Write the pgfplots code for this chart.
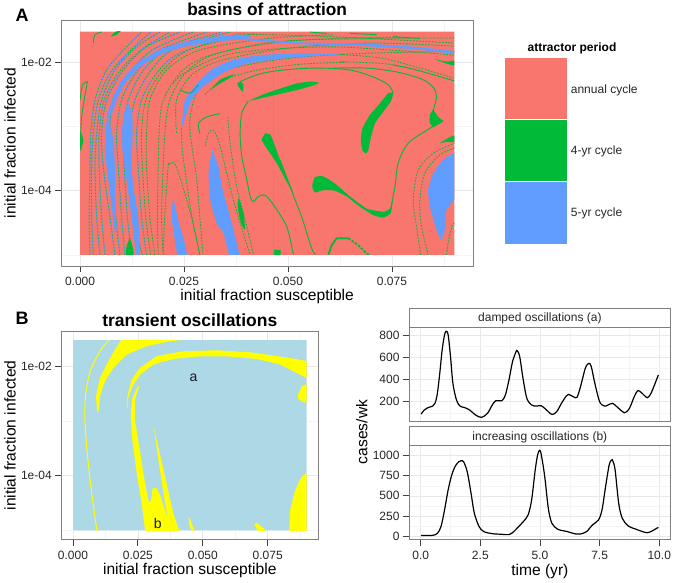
\documentclass[border=0pt]{standalone}
\usepackage{fontspec}
\setmainfont{Liberation Sans}
\usepackage{pgfplots}
\usepackage{pgfplotstable}
\pgfplotsset{compat=1.18}
\definecolor{pk}{HTML}{F8766D}
\definecolor{gr}{HTML}{00BA38}
\definecolor{bl}{HTML}{619CFF}
\definecolor{lb}{HTML}{ADD8E6}
\definecolor{ye}{HTML}{FFFF00}
\newcommand\fs[1]{\fontsize{#1}{#1}\selectfont}
\pgfplotsset{
 box/.style={scale only axis,anchor=south west,
  axis line style={black!50,line width=1pt},
  tick style={black!75,line width=.8pt},
  tick align=outside,major tick length=6pt,minor tick length=0pt,
  xtick pos=bottom,ytick pos=left,scaled ticks=false,
  grid=both,major grid style={black!9,line width=.6pt},minor grid style={black!4,line width=.4pt},
  tick label style={font=\fs{12},text=black!85},
  xticklabel style={yshift=-1.5pt},
  label style={font=\fs{15.6}},
  title style={font=\fs{17.5}\bfseries},
  no marks},
 fr/.style={xmin=-0.0045,xmax=0.0945,ymin=-5.174,ymax=-1.348,
  xtick={0,0.025,0.05,0.075},xticklabels={0.000,0.025,0.050,0.075},
  minor xtick={0.0125,0.0375,0.0625,0.0875},
  ytick={-4,-2},yticklabels={1e-04,1e-02},minor ytick={-5,-3},
  xlabel={initial fraction susceptible},ylabel={initial fraction infected}},
 map/.style={hide axis,scale only axis,anchor=south west,no marks,
  xmin=0,xmax=0.09,ymin=-5,ymax=-1.522},
 G/.style={draw=none,fill=gr,smooth cycle,tension=.25},
 B/.style={draw=none,fill=bl,smooth cycle,tension=.25},
 Y/.style={draw=none,fill=ye,smooth cycle,tension=.12},
 gl/.style={gr,line width=.9pt,smooth},
 gd/.style={gr,line width=.8pt,smooth,dash pattern=on 1.8pt off 1.4pt},
 bd/.style={bl,line width=.9pt,smooth,dash pattern=on 1.6pt off 1.6pt,dash phase=1.6pt},
}
\pgfplotstableread{
x y
0.0024 -5
0.0022 -4.41
0.0024 -3.63
0.0026 -3.11
0.0036 -2.59
0.0064 -2.12
0.0112 -1.76
0.0148 -1.53
}\Fa
\pgfplotstableread{
x y
0.0048 -5
0.0040 -4.41
0.0036 -3.63
0.0040 -3.11
0.0052 -2.59
0.0084 -2.12
0.0136 -1.76
0.0192 -1.53
}\Fb
\pgfplotstableread{
x y
0.0084 -5
0.0072 -4.41
0.0056 -3.63
0.0052 -3.11
0.0064 -2.59
0.0104 -2.12
0.0160 -1.76
0.0240 -1.53
}\Fc
\pgfplotstableread{
x y
0.0108 -5
0.0100 -4.41
0.0092 -3.63
0.0088 -3.11
0.0100 -2.59
0.0136 -2.15
0.0192 -1.81
0.0304 -1.53
}\Fd
\pgfplotstableread{
x y
0.0160 -5
0.0148 -4.41
0.0140 -3.63
0.0136 -3.11
0.0148 -2.59
0.0184 -2.17
0.0240 -1.86
0.0385 -1.55
}\Fe
\pgfplotstableread{
x y
0.0180 -5
0.0168 -4.41
0.0160 -3.63
0.0160 -3.11
0.0168 -2.59
0.0208 -2.12
0.0288 -1.81
0.0449 -1.63
0.0609 -1.57
}\Ff
\pgfplotstableread{
x y
0.0188 -5
0.0186 -4.41
0.0188 -3.63
0.0191 -3.0
0.0200 -2.59
0.0240 -2.17
0.0304 -1.91
0.0449 -1.70
0.0609 -1.63
0.0769 -1.61
}\Fg
\pgfplotstableread{
x y
0.0296 -5
0.0288 -4.41
0.0280 -3.79
0.0268 -3.26
0.0264 -2.90
0.0280 -2.48
0.0321 -2.19
0.0417 -2.02
0.0529 -1.92
0.0689 -1.86
0.0900 -1.83
}\Fh
\pgfplotstableread{
x y
0.0224 -2.33
0.0256 -2.15
0.0369 -1.86
0.0609 -1.76
0.0900 -1.89
}\Fi
\pgfplotstableread{
x y
0.0032 -5
0.0028 -4.41
0.0028 -3.63
0.0032 -3.11
0.0044 -2.59
0.0074 -2.15
0.0124 -1.80
0.0170 -1.53
}\Fj
\pgfplotstableread{
x y
0.0060 -5
0.0052 -4.41
0.0046 -3.63
0.0046 -3.11
0.0058 -2.59
0.0094 -2.15
0.0148 -1.80
0.0216 -1.53
}\Fk
\pgfplotstableread{
x y
0.0096 -5
0.0086 -4.41
0.0074 -3.63
0.0070 -3.11
0.0082 -2.59
0.0120 -2.15
0.0176 -1.80
0.0272 -1.53
}\Fl
\pgfplotstableread{
x y
0.0124 -5
0.0114 -4.41
0.0106 -3.63
0.0104 -3.11
0.0116 -2.59
0.0150 -2.15
0.0208 -1.80
0.0340 -1.53
}\Fm
\pgfplotstableread{
x y
0.0150 -5
0.0128 -4.41
0.0120 -3.63
0.0118 -3.11
0.0132 -2.59
0.0168 -2.15
0.0224 -1.80
0.0360 -1.53
}\Fn
\pgfplotstableread{
x y
0.0170 -5
0.0158 -4.41
0.0150 -3.63
0.0148 -3.11
0.0158 -2.59
0.0196 -2.15
0.0264 -1.80
0.0420 -1.55
}\Fo
\pgfplotstableread{
x y
0.0200 -5
0.0196 -4.41
0.0200 -3.63
0.0204 -3.11
0.0216 -2.59
0.0256 -2.15
0.0330 -1.86
0.0500 -1.67
0.0700 -1.63
0.0900 -1.62
}\Fp
\pgfplotstableread{
x y
0.0232 -3.10
0.0232 -2.59
0.0268 -2.20
0.0340 -1.97
0.0500 -1.78
0.0700 -1.70
0.0900 -1.75
}\Fq
\newcommand\fil[1]{\addplot[gd] table {#1};\addplot[bd] table {#1};}
\newcommand\gil[1]{\addplot[gd] table {#1};}
\begin{document}
\begin{tikzpicture}
\useasboundingbox (0pt,0pt) rectangle (675pt,583pt);
% ---------- panel A
\begin{axis}[box,fr,at={(61.3pt,316.9pt)},width=411.8pt,height=245.7pt,
 title={basins of attraction},title style={font=\fs{17.3}\bfseries,at={(axis description cs:.5,1.022)},anchor=center},
 xlabel style={at={(axis description cs:.5,-0.122)},anchor=center},
 ylabel style={at={(axis description cs:-0.1246,.5)},anchor=center}]
\end{axis}
\begin{axis}[map,at={(80pt,328.1pt)},width=374.4pt,height=223.3pt]
\addplot[draw=none,fill=pk] coordinates {(0,-5)(0.09,-5)(0.09,-1.522)(0,-1.522)} \closedcycle;
% filigree
\fil{\Fa}\fil{\Fb}\fil{\Fc}\fil{\Fd}\fil{\Fe}\gil{\Ff}\gil{\Fg}\gil{\Fh}\gil{\Fi}
\fil{\Fj}\fil{\Fk}\fil{\Fl}\fil{\Fm}\fil{\Fn}\gil{\Fo}\gil{\Fp}\gil{\Fq}
% blue bands
\addplot[B] coordinates {(0.0625,-1.88)(0.0529,-1.86)(0.0433,-1.89)(0.0369,-1.96)(0.0321,-2.09)(0.0281,-2.33)(0.0252,-2.59)(0.0247,-2.82)(0.0244,-3.03)(0.0268,-2.59)(0.0296,-2.38)(0.0345,-2.16)(0.0401,-2.02)(0.0489,-1.94)(0.0569,-1.90)};
\addplot[B] coordinates {(0.0318,-3.37)(0.0333,-3.63)(0.0341,-3.94)(0.0361,-4.41)(0.0385,-5.05)(0.0361,-5.05)(0.0345,-4.66)(0.0329,-4.51)(0.0313,-4.15)(0.0309,-3.73)};
\addplot[B] coordinates {(0.0116,-2.64)(0.0126,-2.85)(0.0126,-3.26)(0.0123,-3.52)(0.0128,-3.94)(0.0140,-4.41)(0.0144,-5.05)(0.0136,-5.05)(0.0124,-4.41)(0.0112,-3.83)(0.0103,-3.42)(0.0100,-3.11)(0.0106,-2.79)};
\addplot[B] coordinates {(0.0068,-2.85)(0.0080,-3.21)(0.0084,-3.63)(0.0084,-4.15)(0.0088,-4.61)(0.0084,-4.66)(0.0076,-4.25)(0.0068,-3.83)(0.0060,-3.37)(0.0062,-3.0)};
\addplot[B] coordinates {(0.0064,-2.85)(0.0080,-2.53)(0.0100,-2.28)(0.0136,-2.02)(0.0192,-1.80)(0.0256,-1.68)(0.0329,-1.60)(0.0401,-1.57)(0.0409,-1.62)(0.0329,-1.68)(0.0256,-1.75)(0.0200,-1.86)(0.0144,-2.07)(0.0108,-2.33)(0.0088,-2.59)(0.0076,-2.82)};
\addplot[B] coordinates {(0.0385,-1.62)(0.0529,-1.69)(0.0689,-1.71)(0.0809,-1.76)(0.0905,-1.83)(0.0905,-1.87)(0.0809,-1.80)(0.0689,-1.75)(0.0529,-1.72)(0.0385,-1.65)};
\addplot[B] coordinates {(0.0224,-4.12)(0.0236,-4.46)(0.0252,-4.82)(0.0258,-5.05)(0.0236,-5.05)(0.0228,-4.77)(0.0220,-4.41)};
\addplot[B] coordinates {(0.0905,-3.42)(0.0873,-3.52)(0.0849,-3.73)(0.0837,-3.99)(0.0841,-4.25)(0.0857,-4.61)(0.0869,-4.77)(0.0877,-4.61)(0.0881,-4.30)(0.0905,-4.07)};
% green blobs
\addplot[G] coordinates {(0.0753,-2.48)(0.0747,-2.61)(0.0729,-2.77)(0.0709,-2.95)(0.0699,-3.18)(0.0693,-3.37)(0.0687,-3.42)(0.0679,-3.37)(0.0675,-3.21)(0.0679,-3.03)(0.0697,-2.82)(0.0721,-2.64)(0.0741,-2.48)};
\addplot[G] coordinates {(0.0575,-2.32)(0.0553,-2.30)(0.0521,-2.33)(0.0481,-2.41)(0.0441,-2.50)(0.0407,-2.60)(0.0441,-2.55)(0.0489,-2.48)(0.0529,-2.42)(0.0561,-2.36)};
\addplot[G] coordinates {(0.0378,-2.33)(0.0386,-2.30)(0.0393,-2.35)(0.0391,-2.46)(0.0383,-2.40)};
\addplot[G] coordinates {(0.0437,-3.21)(0.0445,-3.11)(0.0458,-3.13)(0.0469,-3.31)(0.0481,-3.52)(0.0497,-3.78)(0.0513,-4.04)(0.0497,-3.86)(0.0473,-3.57)(0.0449,-3.34)};
\addplot[G] coordinates {(0.0559,-3.89)(0.0565,-3.79)(0.0581,-3.77)(0.0597,-3.82)(0.0617,-3.91)(0.0649,-4.09)(0.0689,-4.28)(0.0729,-4.33)(0.0745,-4.28)(0.0751,-4.15)(0.0751,-4.20)(0.0747,-4.35)(0.0729,-4.42)(0.0705,-4.38)(0.0673,-4.25)(0.0641,-4.09)(0.0613,-4.00)(0.0585,-3.99)(0.0565,-4.03)(0.0559,-3.96)};
\addplot[G] coordinates {(0.0873,-2.92)(0.0861,-2.85)(0.0849,-2.74)(0.0841,-2.82)(0.0841,-2.94)(0.0849,-3.01)};
\addplot[G] coordinates {(0.0865,-3.26)(0.0885,-3.18)(0.0905,-3.13)(0.0905,-3.24)(0.0881,-3.24)};
\addplot[G] coordinates {(0.0853,-1.95)(0.0881,-1.99)(0.0905,-1.97)(0.0905,-2.06)(0.0881,-2.02)};
\addplot[G] coordinates {(0.0120,-4.74)(0.0128,-4.92)(0.0129,-5.05)(0.0110,-5.05)(0.0112,-4.87)};
\addplot[G] coordinates {(0.0381,-4.12)(0.0393,-4.35)(0.0397,-4.61)(0.0387,-4.51)(0.0379,-4.25)};
\addplot[G] coordinates {(0.0313,-2.43)(0.0337,-2.27)(0.0373,-2.18)(0.0353,-2.27)(0.0329,-2.36)};
\addplot[G] coordinates {(0.0074,-1.60)(0.0084,-1.53)(0.0100,-1.50)(0.0088,-1.57)};
\addplot[G] coordinates {(-0.0003,-3.0)(0.0008,-3.21)(0.0002,-3.37)(-0.0003,-3.37)};
\addplot[draw=none,fill=gr] coordinates {(0.0466,-4.92)(0.0482,-4.92)(0.0482,-5.05)(0.0466,-5.05)} \closedcycle;
% green thin curves
\addplot[gl] coordinates {(0.0385,-2.30)(0.0433,-2.18)(0.0489,-2.12)(0.0569,-2.09)(0.0649,-2.12)(0.0705,-2.23)(0.0741,-2.35)(0.0753,-2.48)};
\addplot[gl] coordinates {(0.0405,-2.60)(0.0389,-2.79)(0.0385,-3.11)(0.0389,-3.47)(0.0401,-3.83)(0.0409,-4.09)(0.0417,-4.17)(0.0429,-4.09)(0.0445,-4.07)(0.0465,-4.22)(0.0497,-4.56)(0.0513,-5.0)};
\addplot[gl] coordinates {(0.0481,-3.52)(0.0505,-3.94)(0.0533,-4.41)(0.0557,-4.90)(0.0567,-5.0)};
\addplot[gl] coordinates {(0.0749,-4.22)(0.0757,-3.94)(0.0765,-3.57)(0.0789,-3.26)(0.0841,-3.03)(0.0873,-2.91)};
\addplot[gl] coordinates {(0.0848,-2.77)(0.0857,-2.54)(0.0849,-2.39)(0.0821,-2.26)(0.0761,-2.15)(0.0689,-2.09)(0.0609,-2.09)};
\addplot[gl] coordinates {(0.0753,-2.04)(0.0809,-2.12)(0.0900,-2.29)};
\addplot[gl] coordinates {(0,-2.59)(0.0006,-2.35)(0.0018,-2.30)};
\addplot[gl] coordinates {(0.0018,-2.30)(0.0010,-2.59)(0.0004,-2.85)(0.0002,-3.05)};
\addplot[gl] coordinates {(0.0032,-1.70)(0.0036,-1.57)(0.0052,-1.53)};
\addplot[gl] coordinates {(0.0240,-2.43)(0.0265,-2.48)(0.0285,-2.35)};
\addplot[gl] coordinates {(0.0288,-3.11)(0.0285,-2.95)(0.0305,-2.85)(0.0337,-2.80)};
\addplot[gl] coordinates {(0.0649,-1.55)(0.0713,-1.57)};
\addplot[gl] coordinates {(0.0753,-1.60)(0.0817,-1.63)};
\addplot[gl] coordinates {(0.0553,-1.53)(0.0593,-1.55)};
\addplot[gd] coordinates {(0.0819,-5)(0.0809,-4.56)(0.0801,-4.15)(0.0813,-3.68)(0.0849,-3.42)(0.0900,-3.26)};
\addplot[gd] coordinates {(0.0837,-5)(0.0821,-4.56)(0.0817,-4.15)(0.0829,-3.73)(0.0865,-3.44)(0.0900,-3.34)};
\addplot[gd] coordinates {(0.0881,-5)(0.0889,-4.66)(0.0900,-4.50)};
\addplot[gd] coordinates {(0.0301,-3.31)(0.0309,-3.11)(0.0321,-3.06)(0.0337,-3.31)(0.0369,-4.15)(0.0409,-5)};
\addplot[gd] coordinates {(0.0355,-2.85)(0.0361,-3.26)(0.0377,-3.94)(0.0401,-4.56)(0.0417,-5)};
\addplot[gd] coordinates {(0.0288,-5)(0.0268,-4.41)(0.0232,-3.63)(0.0216,-3.58)(0.0212,-3.63)(0.0204,-4.35)(0.0200,-5)};
\addplot[gd] coordinates {(0.0625,-1.88)(0.0729,-1.94)(0.0849,-2.15)(0.0900,-2.25)};
\addplot[gd] coordinates {(0.0625,-1.99)(0.0729,-2.02)(0.0793,-2.09)};
\addplot[gd] coordinates {(0.0244,-3.03)(0.0246,-3.37)(0.0256,-3.85)(0.0268,-4.37)(0.0288,-5)};
\addplot[gd] coordinates {(0.0300,-2.50)(0.0345,-2.28)(0.0420,-2.13)(0.0530,-2.03)(0.0640,-2.00)};
\addplot[gd] coordinates {(0.0385,-1.56)(0.0600,-1.60)(0.0900,-1.70)};
\addplot[gr,line width=1.8pt] coordinates {(0.0597,-5)(0.0605,-4.85)(0.0617,-4.74)(0.0645,-4.74)};
\addplot[gr,line width=1.8pt,dash pattern=on 2.5pt off 1.5pt] coordinates {(0.0645,-4.74)(0.0669,-4.85)(0.0689,-4.98)(0.0701,-5.02)};
\end{axis}
% legend of A
\fill[pk] (505pt,525pt) rectangle (567.3pt,463.3pt);
\fill[gr] (505pt,463.3pt) rectangle (567.3pt,401.7pt);
\fill[bl] (505pt,401.7pt) rectangle (567.3pt,339pt);
\draw[white,line width=.6pt] (505pt,463.3pt) -- (567.3pt,463.3pt) (505pt,401.7pt) -- (567.3pt,401.7pt);
\node[font=\fs{12}\bfseries] at (572pt,535pt) {attractor period};
\node[font=\fs{12},anchor=west,inner sep=0pt,text=black!85] at (570.7pt,493pt) {annual cycle};
\node[font=\fs{12},anchor=west,inner sep=0pt,text=black!85] at (570.7pt,432pt) {4-yr cycle};
\node[font=\fs{12},anchor=west,inner sep=0pt,text=black!85] at (570.7pt,370pt) {5-yr cycle};
\node[font=\fs{18}\bfseries] at (22pt,568pt) {A};
\node[font=\fs{18}\bfseries] at (22pt,265pt) {B};
% ---------- panel B
\begin{axis}[box,fr,at={(61.3pt,43.3pt)},width=257pt,height=208.5pt,
 title={transient oscillations},title style={at={(axis description cs:.5,1.025)},anchor=center},
 xlabel style={at={(axis description cs:.5,-0.1487)},anchor=center},
 ylabel style={at={(axis description cs:-0.1996,.5)},anchor=center}]
\end{axis}
\begin{axis}[map,at={(73pt,52.5pt)},width=233.6pt,height=190.3pt]
\addplot[draw=none,fill=lb] coordinates {(0,-5)(0.09,-5)(0.09,-1.522)(0,-1.522)} \closedcycle;
\addplot[ye,line width=1pt,smooth] coordinates {(0.01445,-1.50)(0.0107,-1.70)(0.00675,-2.075)(0.00495,-2.489)(0.00456,-2.917)(0.00527,-3.468)(0.00706,-4.263)(0.0093,-5.03)};
\addplot[Y] coordinates {(0.00938,-2.844)(0.00887,-2.551)(0.0104,-2.214)(0.01362,-1.908)(0.01941,-1.48)(0.04254,-1.48)(0.04254,-1.511)(0.03612,-1.554)(0.02841,-1.633)(0.02069,-1.786)(0.01555,-2.031)(0.01234,-2.275)(0.0104,-2.551)(0.01003,-2.795)};
\addplot[Y] coordinates {(0.02069,-2.765)(0.02095,-2.551)(0.02262,-2.245)(0.0258,-2.031)(0.03226,-1.817)(0.04254,-1.725)(0.0554,-1.707)(0.06825,-1.743)(0.08111,-1.829)(0.0915,-1.921)(0.0915,-2.245)(0.08625,-2.122)(0.07982,-1.969)(0.07082,-1.866)(0.05925,-1.817)(0.04897,-1.817)(0.03869,-1.866)(0.03098,-1.969)(0.0258,-2.153)(0.02262,-2.398)(0.02108,-2.612)(0.02108,-2.765)};
\addplot[Y] coordinates {(0.08663,-2.52)(0.08817,-2.367)(0.0915,-2.306)(0.0915,-2.673)(0.08817,-2.642)(0.08663,-2.581)};
\addplot[Y] coordinates {(0.02554,-2.355)(0.02388,-2.612)(0.02388,-2.979)(0.02554,-3.468)(0.02734,-4.018)(0.02905,-4.446)(0.02995,-4.477)(0.03072,-4.232)(0.032,-4.214)(0.03355,-4.355)(0.03676,-4.813)(0.03548,-4.508)(0.03291,-3.713)(0.03111,-3.113)(0.03252,-3.407)(0.03548,-4.018)(0.03869,-4.691)(0.041,-5.05)(0.02815,-5.05)(0.02648,-4.508)(0.02455,-3.957)(0.02288,-3.346)(0.02224,-2.887)(0.02288,-2.581)(0.02481,-2.379)};
\addplot[Y] coordinates {(0.08342,-5.05)(0.08368,-4.63)(0.08561,-4.263)(0.08817,-4.018)(0.0915,-3.92)(0.0915,-5.05)};
\addplot[Y] coordinates {(0.04447,-4.752)(0.04512,-4.783)(0.04576,-4.875)(0.04704,-5.05)(0.04615,-5.05)(0.04486,-4.905)};
\addplot[Y] coordinates {(0.0698,-4.887)(0.07082,-4.862)(0.07275,-4.936)(0.07532,-5.05)(0.07185,-5.05)(0.07082,-4.966)};
\node[font=\fs{14},text=black!90] at (axis cs:0.0464,-2.208) {a};
\node[font=\fs{14},text=black!90] at (axis cs:0.03265,-4.875) {b};
\end{axis}
% ---------- facets
\draw[black!50,line width=1pt,fill=white] (409pt,255.7pt) rectangle (670.7pt,274.7pt);
\node[font=\fs{12},text=black!85] at (539.85pt,264.7pt) {damped oscillations (a)};
\draw[black!50,line width=1pt,fill=white] (409pt,137pt) rectangle (670.7pt,156.3pt);
\node[font=\fs{12},text=black!85] at (539.85pt,145.7pt) {increasing oscillations (b)};
\begin{axis}[box,at={(409pt,161.3pt)},width=261.7pt,height=94.4pt,
 xmin=-0.49,xmax=10.48,ymin=19.3,ymax=872,
 xtick={0,2.5,5,7.5,10},xticklabels={},xtick style={draw=none},
 minor xtick={1.25,3.75,6.25,8.75},
 ytick={200,400,600,800},yticklabels={200,400,600,800},minor ytick={100,300,500,700}]
\addplot[black,line width=1.2pt,smooth] coordinates {
(0.02,88)(0.15,125)(0.3,146)(0.5,160)(0.6,185)(0.7,275)(0.8,457)(0.9,668)(1.0,804)(1.07,837)(1.15,804)(1.25,608)(1.35,366)(1.5,215)(1.65,160)(1.85,146)(2.05,125)(2.3,80)(2.55,58)(2.8,95)(3.0,170)(3.15,209)(3.4,209)(3.55,260)(3.7,396)(3.85,562)(4.0,653)(4.05,659)(4.15,608)(4.3,396)(4.45,230)(4.65,170)(4.85,160)(5.05,164)(5.25,130)(5.5,85)(5.7,109)(5.9,185)(6.1,251)(6.2,266)(6.4,245)(6.55,239)(6.7,336)(6.9,502)(7.05,547)(7.15,517)(7.3,366)(7.5,200)(7.7,160)(7.85,170)(8.05,185)(8.25,149)(8.55,100)(8.75,140)(8.95,245)(9.1,300)(9.25,282)(9.5,236)(9.65,275)(9.8,351)(9.96,441)};
\end{axis}
\begin{axis}[box,at={(409pt,43pt)},width=261.7pt,height=94pt,
 xmin=-0.49,xmax=10.48,ymin=-50,ymax=1121,
 xtick={0,2.5,5,7.5,10},xticklabels={0.0,2.5,5.0,7.5,10.0},
 minor xtick={1.25,3.75,6.25,8.75},
 ytick={0,250,500,750,1000},yticklabels={0,250,500,750,1000},minor ytick={125,375,625,875},
 xlabel={time (yr)},ylabel={cases/wk},
 xlabel style={at={(axis description cs:.5,-0.33)},anchor=center},
 ylabel style={at={(axis description cs:-0.1807,1.149)},anchor=center}]
\addplot[black,line width=1.2pt,smooth] coordinates {
(0.02,5)(0.5,8)(0.7,33)(0.85,116)(1.0,324)(1.15,573)(1.3,759)(1.45,871)(1.6,925)(1.7,938)(1.8,925)(1.95,801)(2.1,552)(2.25,282)(2.45,116)(2.65,54)(3.0,29)(3.4,21)(3.7,17)(3.9,54)(4.1,116)(4.3,178)(4.5,261)(4.65,448)(4.8,822)(4.9,1008)(4.98,1066)(5.05,1021)(5.2,739)(5.35,344)(5.5,158)(5.75,83)(6.1,58)(6.5,25)(6.7,25)(6.95,54)(7.2,137)(7.45,199)(7.6,324)(7.75,614)(7.9,884)(8.0,946)(8.05,938)(8.15,822)(8.3,407)(8.45,220)(8.7,125)(9.0,87)(9.3,54)(9.5,41)(9.7,62)(9.96,108)};
\end{axis}
\end{tikzpicture}
\end{document}
